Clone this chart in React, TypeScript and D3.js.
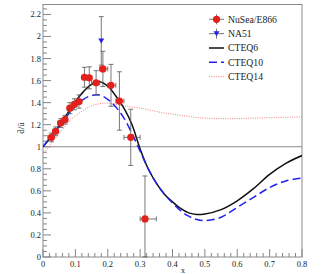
import * as d3 from 'd3'

// NuSea / E866 points
const e866X = [0.026, 0.039, 0.055, 0.068, 0.083, 0.097, 0.111, 0.128, 0.143, 0.164, 0.185, 0.21, 0.236, 0.271, 0.315]
const e866Y = [1.085, 1.14, 1.215, 1.245, 1.35, 1.385, 1.41, 1.63, 1.625, 1.58, 1.706, 1.557, 1.415, 1.085, 0.345]
const e866Err = [0.04, 0.04, 0.04, 0.04, 0.05, 0.05, 0.06, 0.09, 0.1, 0.11, 0.16, 0.19, 0.265, 0.255, 0.39]
const e866XLo = [0.015, 0.03, 0.045, 0.06, 0.075, 0.09, 0.105, 0.12, 0.135, 0.15, 0.175, 0.2, 0.225, 0.25, 0.3]
const e866XHi = [0.03, 0.045, 0.06, 0.075, 0.09, 0.105, 0.12, 0.135, 0.15, 0.175, 0.2, 0.225, 0.25, 0.3, 0.35]

// NA51
const na51X = [0.18]
const na51Y = [1.96]
const na51Err = [0.22]

// theory curves
const curveX = [0, 0.025, 0.05, 0.075, 0.1, 0.125, 0.15, 0.175, 0.2, 0.225, 0.25, 0.275, 0.3, 0.325, 0.35, 0.375, 0.4, 0.425, 0.45, 0.475, 0.5, 0.55, 0.6, 0.65, 0.7, 0.75, 0.8]
const cteq6 = [1.0, 1.09, 1.19, 1.3, 1.41, 1.5, 1.565, 1.59, 1.55, 1.46, 1.35, 1.2, 0.98, 0.8, 0.67, 0.57, 0.5, 0.44, 0.4, 0.385, 0.39, 0.43, 0.51, 0.62, 0.75, 0.85, 0.92]
const cteq10 = [1.0, 1.09, 1.18, 1.28, 1.37, 1.43, 1.465, 1.47, 1.43, 1.36, 1.26, 1.12, 0.96, 0.8, 0.67, 0.57, 0.49, 0.42, 0.37, 0.34, 0.33, 0.36, 0.45, 0.54, 0.63, 0.69, 0.715]
const cteq14 = [0.93, 1.03, 1.12, 1.21, 1.28, 1.33, 1.37, 1.39, 1.395, 1.385, 1.37, 1.36, 1.35, 1.335, 1.32, 1.305, 1.295, 1.285, 1.275, 1.265, 1.26, 1.255, 1.255, 1.26, 1.263, 1.267, 1.27]

const xTicks = [0, 0.1, 0.2, 0.3, 0.4, 0.5, 0.6, 0.7, 0.8]
const yTicks = [0, 0.2, 0.4, 0.6, 0.8, 1, 1.2, 1.4, 1.6, 1.8, 2, 2.2]

const legendItems = ['NuSea/E866', 'NA51', 'CTEQ6', 'CTEQ10', 'CTEQ14']

const W = 327
const H = 274
const L = 43, R = 302, T = 4.5, B = 257

const RED = '#e3201b'
const BLUE = '#2222ee'
const BAR = '#555'
const FRAME = '#8a8a8a'

export default function App() {
  const x = d3.scaleLinear().domain([0, 0.8]).range([L, R])
  const y = d3.scaleLinear().domain([0, 2.29]).range([B, T])

  const line = (ys: number[]) =>
    d3.line<number>()
      .x((_, i) => x(curveX[i]))
      .y(d => y(d))
      .curve(d3.curveCatmullRom.alpha(0.5))(ys) as string

  const minorX = d3.range(0, 0.8001, 0.02)
  const minorY = d3.range(0, 2.2501, 0.05)
  const font = '"Liberation Serif", "Times New Roman", serif'

  const tri = (cx: number, cy: number, s: number) =>
    `M${cx - s},${cy - s * 0.8}L${cx + s},${cy - s * 0.8}L${cx},${cy + s * 0.9}Z`

  return (
    <svg width={W} height={H} style={{ position: 'absolute', left: 0, top: 0, background: '#fff' }} fontFamily={font}>
      <defs>
        <clipPath id="plot">
          <rect x={L} y={T} width={R - L} height={B - T} />
        </clipPath>
      </defs>

      {/* ticks */}
      {minorX.map((v, i) => {
        const major = Math.abs(v * 10 - Math.round(v * 10)) < 1e-6
        return <line key={'mx' + i} x1={x(v)} x2={x(v)} y1={B} y2={B - (major ? 8 : 4)} stroke="#666" strokeWidth={0.8} />
      })}
      {minorY.map((v, i) => {
        const major = Math.abs(v * 5 - Math.round(v * 5)) < 1e-6
        return <line key={'my' + i} x1={L} x2={L + (major ? 8 : 4)} y1={y(v)} y2={y(v)} stroke="#666" strokeWidth={0.8} />
      })}
      {xTicks.map(v => (
        <text key={'xt' + v} x={x(v)} y={B + 9.5} fontSize={8.5} textAnchor="middle" fill="#222">{String(v)}</text>
      ))}
      {yTicks.map(v => (
        <text key={'yt' + v} x={L - 2} y={y(v) + 3} fontSize={8.5} textAnchor="end" fill="#222">{String(v)}</text>
      ))}

      {/* frame + reference line */}
      <rect x={L} y={T} width={R - L} height={B - T} fill="none" stroke={FRAME} strokeWidth={1} />
      <line x1={L} x2={R} y1={y(1)} y2={y(1)} stroke={FRAME} strokeWidth={1} />

      {/* curves */}
      <g clipPath="url(#plot)" fill="none">
        <path d={line(cteq14)} stroke="#f08080" strokeWidth={1} strokeDasharray="1,1.3" />
        <path d={line(cteq6)} stroke="#111" strokeWidth={1.5} />
        <path d={line(cteq10)} stroke={BLUE} strokeWidth={1.5} strokeDasharray="8,4" />
      </g>

      {/* NA51 */}
      {na51X.map((v, i) => {
        const cx = x(v), cy = y(na51Y[i])
        const y0 = y(na51Y[i] - na51Err[i]), y1 = y(na51Y[i] + na51Err[i])
        return (
          <g key={'na' + i} stroke={BAR} strokeWidth={0.8}>
            <line x1={cx} x2={cx} y1={y0} y2={y1} />
            <line x1={cx - 2.5} x2={cx + 2.5} y1={y0} y2={y0} />
            <line x1={cx - 2.5} x2={cx + 2.5} y1={y1} y2={y1} />
            <path d={tri(cx, cy, 3)} fill={BLUE} stroke="none" />
          </g>
        )
      })}

      {/* E866 */}
      {e866X.map((v, i) => {
        const cx = x(v), cy = y(e866Y[i])
        const y0 = y(Math.max(0, e866Y[i] - e866Err[i])), y1 = y(e866Y[i] + e866Err[i])
        const x0 = x(e866XLo[i]), x1 = x(e866XHi[i])
        return (
          <g key={'e' + i} stroke={BAR} strokeWidth={0.8}>
            <line x1={cx} x2={cx} y1={y0} y2={y1} />
            <line x1={cx - 2.5} x2={cx + 2.5} y1={y0} y2={y0} />
            <line x1={cx - 2.5} x2={cx + 2.5} y1={y1} y2={y1} />
            <line x1={x0} x2={x1} y1={cy} y2={cy} />
            <line x1={x0} x2={x0} y1={cy - 2.5} y2={cy + 2.5} />
            <line x1={x1} x2={x1} y1={cy - 2.5} y2={cy + 2.5} />
            <circle cx={cx} cy={cy} r={3.6} fill={RED} stroke="none" />
          </g>
        )
      })}

      {/* legend */}
      {legendItems.map((name, i) => {
        const ly = 19.3 + i * 14.35
        const lx0 = 209, lx1 = 224, mx = 216.5
        return (
          <g key={name}>
            {i === 0 && (
              <g stroke={BAR} strokeWidth={0.8}>
                <line x1={lx0} x2={lx1} y1={ly} y2={ly} />
                <line x1={mx} x2={mx} y1={ly - 5} y2={ly + 5} />
                <circle cx={mx} cy={ly} r={3.6} fill={RED} stroke="none" />
              </g>
            )}
            {i === 1 && (
              <g stroke={BAR} strokeWidth={0.8}>
                <line x1={lx0} x2={lx1} y1={ly} y2={ly} />
                <line x1={mx} x2={mx} y1={ly - 5} y2={ly + 5} />
                <path d={tri(mx, ly, 3)} fill={BLUE} stroke="none" />
              </g>
            )}
            {i === 2 && <line x1={lx0} x2={lx1} y1={ly} y2={ly} stroke="#111" strokeWidth={1.5} />}
            {i === 3 && <line x1={lx0} x2={lx1} y1={ly} y2={ly} stroke={BLUE} strokeWidth={1.5} strokeDasharray="8,4" />}
            {i === 4 && <line x1={lx0} x2={lx1} y1={ly} y2={ly} stroke="#f08080" strokeWidth={1} strokeDasharray="1,1.3" />}
            <text x={228} y={ly + 3.3} fontSize={9.7} fill="#222">{name}</text>
          </g>
        )
      })}

      {/* axis titles */}
      <text transform={`translate(24,128) rotate(-90)`} fontSize={9} textAnchor="middle" fill="#222">
        {'d\u0304/u\u0304'}
      </text>
      <text x={183} y={272.5} fontSize={8} textAnchor="middle" fill="#222">x</text>
    </svg>
  )
}
